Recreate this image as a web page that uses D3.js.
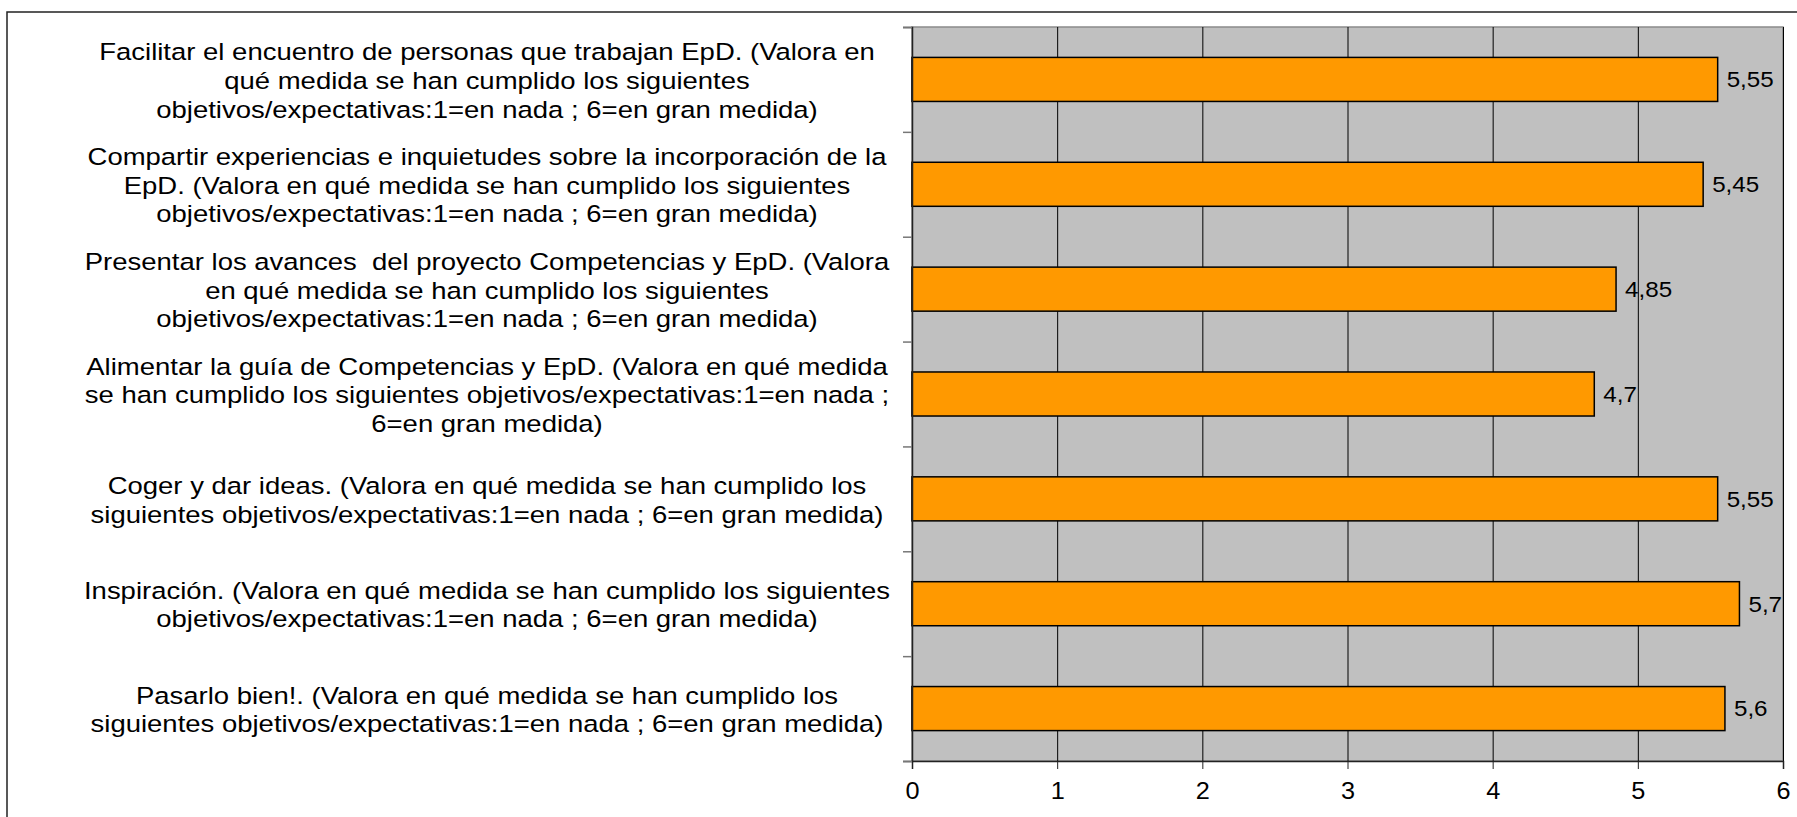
<!DOCTYPE html>
<html>
<head>
<meta charset="utf-8">
<script src="https://cdn.jsdelivr.net/npm/d3@7"></script>
<style>
  body { margin: 0; background: #fff; }
  text { font-family: "Liberation Sans", Arial, sans-serif; fill: #000; white-space: pre; }
</style>
</head>
<body>
<div id="chart-area"></div>
<script>
// categories, one array of wrapped lines per bar (top to bottom)
var categories = [
    ["Facilitar el encuentro de personas que trabajan EpD. (Valora en", "qué medida se han cumplido los siguientes", "objetivos/expectativas:1=en nada ; 6=en gran medida)"],
    ["Compartir experiencias e inquietudes sobre la incorporación de la", "EpD. (Valora en qué medida se han cumplido los siguientes", "objetivos/expectativas:1=en nada ; 6=en gran medida)"],
    ["Presentar los avances  del proyecto Competencias y EpD. (Valora", "en qué medida se han cumplido los siguientes", "objetivos/expectativas:1=en nada ; 6=en gran medida)"],
    ["Alimentar la guía de Competencias y EpD. (Valora en qué medida", "se han cumplido los siguientes objetivos/expectativas:1=en nada ;", "6=en gran medida)"],
    ["Coger y dar ideas. (Valora en qué medida se han cumplido los", "siguientes objetivos/expectativas:1=en nada ; 6=en gran medida)"],
    ["Inspiración. (Valora en qué medida se han cumplido los siguientes", "objetivos/expectativas:1=en nada ; 6=en gran medida)"],
    ["Pasarlo bien!. (Valora en qué medida se han cumplido los", "siguientes objetivos/expectativas:1=en nada ; 6=en gran medida)"]
];
var values = [5.55, 5.45, 4.85, 4.7, 5.55, 5.7, 5.6];
var xTicks = [0, 1, 2, 3, 4, 5, 6];

var data = categories.map(function(c, i) { return { id: i, lines: c, value: values[i] }; });

var W = 1797, H = 817;
var margin = { left: 912, right: 14, top: 27, bottom: 56 };
var width = W - margin.left - margin.right,
    height = H - margin.top - margin.bottom;
var stretch = 1.17; // text in the picture is drawn a bit wide

var svg = d3.select("#chart-area")
    .append("svg")
        .attr("width", W)
        .attr("height", H);

// outer frame (runs off the right / bottom edge)
svg.append("rect")
    .attr("x", 7).attr("y", 12)
    .attr("width", W).attr("height", H)
    .attr("fill", "none")
    .attr("stroke", "#222")
    .attr("stroke-width", 1.5);

var g = svg.append("g")
    .attr("transform", "translate(" + margin.left + "," + margin.top + ")");

// X Scale
var x = d3.scaleLinear()
    .domain([0, 6])
    .range([0, width]);

// Y Scale
var y = d3.scaleBand()
    .domain(data.map(function(d) { return d.id; }))
    .range([0, height])
    .paddingInner(0.58)
    .paddingOuter(0.29);

var yEdges = d3.scaleLinear().domain([0, categories.length]).range([0, height]);

// plot background
g.append("rect")
    .attr("width", width)
    .attr("height", height)
    .attr("fill", "#c0c0c0")
    .attr("stroke", "#8a8a8a")
    .attr("stroke-width", 1.5);

// gridlines
var grid = g.append("g")
    .call(d3.axisBottom(x).tickValues(xTicks).tickSize(height).tickFormat(""));
grid.select(".domain").remove();
grid.selectAll("line").attr("stroke", "#000").attr("stroke-width", 1);

// bars
g.selectAll("rect.bar")
    .data(data)
    .enter()
    .append("rect")
        .attr("class", "bar")
        .attr("x", x(0))
        .attr("y", function(d) { return y(d.id); })
        .attr("width", function(d) { return x(d.value) - x(0); })
        .attr("height", y.bandwidth())
        .attr("fill", "#ff9900")
        .attr("stroke", "#000")
        .attr("stroke-width", 1.5);

// value labels
g.selectAll("text.val")
    .data(data)
    .enter()
    .append("text")
        .attr("class", "val")
        .attr("transform", function(d) {
            return "translate(" + (x(d.value) + 9) + "," + (y(d.id) + y.bandwidth() / 2) + ") scale(1.1,1)";
        })
        .attr("dy", "0.36em")
        .attr("font-size", "22px")
        .text(function(d) { return String(d.value).replace(".", ","); });

// X Axis
var xAxisGroup = g.append("g")
    .attr("transform", "translate(0," + height + ")")
    .call(d3.axisBottom(x).tickValues(xTicks).tickSize(8).tickPadding(14).tickFormat(function(d) { return d; }));
xAxisGroup.select(".domain").attr("stroke", "#222").attr("stroke-width", 1.5);
xAxisGroup.selectAll("line").attr("stroke", "#222");
xAxisGroup.selectAll("text")
    .attr("font-size", "23px")
    .attr("font-family", "Liberation Sans, Arial, sans-serif")
    .attr("fill", "#000")
    .attr("transform", "scale(1.1,1)");

// Y Axis (ticks between categories)
var yAxisGroup = g.append("g")
    .call(d3.axisLeft(yEdges).tickValues(d3.range(categories.length + 1)).tickSize(9).tickFormat(""));
yAxisGroup.select(".domain").attr("stroke", "#222").attr("stroke-width", 1.5);
yAxisGroup.selectAll("line").attr("stroke", "#777").attr("stroke-width", 1.5);

// category labels
var lineH = 28.7;
var labelX = 487 - margin.left;
var labels = g.selectAll("g.cat")
    .data(data)
    .enter()
    .append("g")
        .attr("class", "cat")
        .attr("transform", function(d) {
            return "translate(" + labelX + "," + (y(d.id) + y.bandwidth() / 2) + ")";
        });

labels.selectAll("text")
    .data(function(d) {
        var n = d.lines.length;
        return d.lines.map(function(t, i) { return { t: t, off: (i - (n - 1) / 2) * lineH }; });
    })
    .enter()
    .append("text")
        .attr("transform", function(d) { return "translate(0," + d.off + ") scale(" + stretch + ",1)"; })
        .attr("dy", "0.4em")
        .attr("text-anchor", "middle")
        .attr("font-size", "23.5px")
        .text(function(d) { return d.t; });
</script>
</body>
</html>
